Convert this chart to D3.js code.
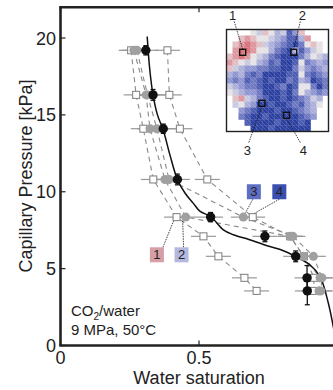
<!DOCTYPE html>
<html>
<head>
<meta charset="utf-8">
<script src="https://cdn.jsdelivr.net/npm/d3@7"></script>
<style>
  body { margin: 0; background: #fff; }
  text { font-family: "Liberation Sans", Arial, sans-serif; fill: #222; }
</style>
</head>
<body>
<svg id="chart" width="333" height="390"></svg>
<script>
// Capillary pressure vs water saturation

// pressure steps (kPa)
const pressures = [19.2, 16.3, 14.1, 10.8, 8.35, 7.1, 5.8, 4.4, 3.55];

// saturation at the four locations
const satLoc1 = [0.255, 0.273, 0.299, 0.335, 0.419, 0.516, 0.570, 0.664, 0.708];
const satLoc2 = [0.265, 0.309, 0.323, 0.377, 0.452, 0.829, 0.877, 0.937, 0.933];
const satLoc3 = [0.276, 0.314, 0.348, 0.392, 0.660, 0.839, 0.913, 0.944, 0.940];
const satLoc4 = [0.386, 0.393, 0.431, 0.530, 0.694, 0.829, 0.879, 0.916, 0.913];

// core average + error
const satMean = [0.308, 0.334, 0.371, 0.422, 0.542, 0.738, 0.849, 0.890, 0.891];
const meanErrP = [0.3, 0.35, 0.3, 0.35, 0.3, 0.35, 0.35, 0.8, 0.9];
const satErr = 0.045;

// fitted curve
const fitSat = [0.313, 0.322, 0.334, 0.350, 0.371, 0.395, 0.422, 0.450, 0.479, 0.504, 0.542, 0.588, 0.624, 0.680, 0.735, 0.800, 0.853, 0.900, 0.937, 0.967, 0.985, 0.997];
const fitP = [20.1, 18.0, 16.3, 15.0, 14.0, 12.4, 10.8, 9.9, 9.26, 8.72, 8.39, 7.52, 7.2, 6.9, 6.55, 6.2, 5.75, 5.25, 4.48, 2.75, 1.2, 0];

const xTicks = [0, 0.5, 1];
const xTickLabels = [0, 0.5];
const yTicks = [0, 5, 10, 15, 20];

// saturation map of the slice, 0 = red (low) .. 9 = dark blue (high), "." = outside
const mapRows = [
  "....342354862....",
  "..212334568851...",
  ".210124567897323.",
  ".100133578958643.",
  "21013457899975345",
  "12343568799837656",
  "24566778899746765",
  "56578799998837876",
  "67687898997856987",
  "45677899879833797",
  "34566799989735676",
  ".214578998987645.",
  ".435699899878653.",
  "..6789998998765..",
  "..7899899999876..",
  "...89999899989...",
  "....9998999999..."
];
// location markers on the map (col,row in cell units)
const locCol = [2.7, 11.2, 5.9, 10.0];
const locRow = [3.8, 3.8, 12.3, 14.3];
const locNames = ["1", "2", "3", "4"];

const svg = d3.select("#chart");

// scales
const x = d3.scaleLinear().domain([0, 1]).range([60.5, 337.5]);
const y = d3.scaleLinear().domain([0, 22]).range([345.5, 7.25]);

const series = [
  { sat: satLoc1, type: "square" },
  { sat: satLoc2, type: "gray" },
  { sat: satLoc3, type: "gray" },
  { sat: satLoc4, type: "square" }
];

// dashed lines for each location
const line = d3.line().x(d => x(d[0])).y(d => y(d[1]));
series.forEach(s => {
  svg.append("path")
    .datum(s.sat.map((v, i) => [v, pressures[i]]))
    .attr("d", line)
    .attr("fill", "none")
    .attr("stroke", "#8a8a8a")
    .attr("stroke-width", 1.1)
    .attr("stroke-dasharray", "5,4");
});

// horizontal error bars
const allSeries = series.map(s => s.sat).concat([satMean]);
allSeries.forEach(sat => {
  svg.append("g").selectAll("line")
    .data(sat)
    .join("line")
    .attr("x1", d => x(d - satErr))
    .attr("x2", d => x(d + satErr))
    .attr("y1", (d, i) => y(pressures[i]))
    .attr("y2", (d, i) => y(pressures[i]))
    .attr("stroke", "#999")
    .attr("stroke-width", 1.2);
});

// fitted curve
svg.append("path")
  .datum(fitSat.map((v, i) => [v, fitP[i]]))
  .attr("d", d3.line().x(d => x(d[0])).y(d => y(d[1])).curve(d3.curveCatmullRom))
  .attr("fill", "none")
  .attr("stroke", "#111")
  .attr("stroke-width", 1.5);

// squares first, then gray circles
series.filter(s => s.type === "square").forEach(s => {
  svg.append("g").selectAll("rect")
    .data(s.sat)
    .join("rect")
    .attr("x", d => x(d) - 3.5)
    .attr("y", (d, i) => y(pressures[i]) - 3.5)
    .attr("width", 7)
    .attr("height", 7)
    .attr("fill", "#fff")
    .attr("stroke", "#888")
    .attr("stroke-width", 1.1);
});
series.filter(s => s.type === "gray").forEach(s => {
  svg.append("g").selectAll("circle")
    .data(s.sat)
    .join("circle")
    .attr("cx", d => x(d))
    .attr("cy", (d, i) => y(pressures[i]))
    .attr("r", 4.5)
    .attr("fill", "#a0a0a0");
});

// mean points with vertical error bars
const meanG = svg.append("g");
meanG.selectAll("line.v")
  .data(satMean)
  .join("line")
  .attr("x1", d => x(d)).attr("x2", d => x(d))
  .attr("y1", (d, i) => y(pressures[i] - meanErrP[i]))
  .attr("y2", (d, i) => y(pressures[i] + meanErrP[i]))
  .attr("stroke", "#111").attr("stroke-width", 1.3);
[-1, 1].forEach(sgn => {
  meanG.append("g").selectAll("line")
    .data(satMean)
    .join("line")
    .attr("x1", d => x(d) - 2.5).attr("x2", d => x(d) + 2.5)
    .attr("y1", (d, i) => y(pressures[i] + sgn * meanErrP[i]))
    .attr("y2", (d, i) => y(pressures[i] + sgn * meanErrP[i]))
    .attr("stroke", "#111").attr("stroke-width", 1.3);
});
meanG.selectAll("circle")
  .data(satMean)
  .join("circle")
  .attr("cx", d => x(d))
  .attr("cy", (d, i) => y(pressures[i]))
  .attr("r", 4.7)
  .attr("fill", "#111");

// location tags in the plot
const tagCol = ["#d69ea5", "#b4b8de", "#5e6ec3", "#3b4eb1"];
const tagSat = [0.348, 0.437, 0.698, 0.790];
const tagP = [5.9, 5.9, 10.0, 10.0];
const tagTarget = [[satLoc1[4], pressures[4]], [satLoc2[4], pressures[4]], [satLoc3[4], pressures[4]], [satLoc4[4], pressures[4]]];
tagSat.forEach((s, i) => {
  const cx = x(s), cy = y(tagP[i]);
  const up = tagP[i] < pressures[4];
  svg.append("line")
    .attr("x1", up ? cx + (i === 0 ? 6 : 2) : cx + (i === 2 ? -1 : 0))
    .attr("y1", up ? cy - 7.5 : cy + 7.5)
    .attr("x2", x(tagTarget[i][0]) + (up ? -3 : 2))
    .attr("y2", y(tagTarget[i][1]) + (up ? 4 : -4))
    .attr("stroke", "#111").attr("stroke-width", 0.8)
    .attr("stroke-dasharray", "1.5,1");
  svg.append("rect")
    .attr("x", cx - 7).attr("y", cy - 7.5)
    .attr("width", 14).attr("height", 15)
    .attr("fill", tagCol[i]);
  svg.append("text")
    .attr("x", cx).attr("y", cy + 4.5)
    .attr("text-anchor", "middle")
    .attr("font-size", 13)
    .text(locNames[i]);
});

// inset map
const mx = d3.scaleLinear().domain([0, 17]).range([226.5, 328.5]);
const my = d3.scaleLinear().domain([0, 17]).range([29.5, 131.5]);
const mapColor = d3.scaleLinear()
  .domain([0, 3, 6, 9])
  .range(["#d9707a", "#e6e3e6", "#8f96d2", "#2c40a0"]);

const defs = svg.append("defs");
const pat = defs.append("pattern")
  .attr("id", "hatch")
  .attr("patternUnits", "userSpaceOnUse")
  .attr("width", 4).attr("height", 4);
pat.append("path")
  .attr("d", "M-1,-1 L5,5")
  .attr("stroke", "#fff").attr("stroke-opacity", 0.25).attr("stroke-width", 0.6);

svg.append("rect")
  .attr("x", mx(0)).attr("y", my(0))
  .attr("width", mx(17) - mx(0)).attr("height", my(17) - my(0))
  .attr("fill", "#fff");

const cells = [];
mapRows.forEach((row, r) => {
  row.split("").forEach((ch, c) => {
    if (ch !== ".") cells.push({ r: r, c: c, v: +ch });
  });
});
const mapG = svg.append("g");
mapG.selectAll("rect.cell")
  .data(cells)
  .join("rect")
  .attr("x", d => mx(d.c)).attr("y", d => my(d.r))
  .attr("width", mx(1) - mx(0) + 0.3).attr("height", my(1) - my(0) + 0.3)
  .attr("fill", d => mapColor(d.v));
mapG.selectAll("rect.hatch")
  .data(cells)
  .join("rect")
  .attr("x", d => mx(d.c)).attr("y", d => my(d.r))
  .attr("width", mx(1) - mx(0)).attr("height", my(1) - my(0))
  .attr("fill", "url(#hatch)");

svg.append("rect")
  .attr("x", mx(0)).attr("y", my(0))
  .attr("width", mx(17) - mx(0)).attr("height", my(17) - my(0))
  .attr("fill", "none").attr("stroke", "#222").attr("stroke-width", 1.4);

// location markers and labels on the map
const labelX = [232.7, 302.3, 247.3, 303.3];
const labelY = [19.5, 19.5, 154.5, 154.5];
locCol.forEach((c, i) => {
  const px = mx(c), py = my(locRow[i]);
  const top = i < 2;
  svg.append("line")
    .attr("x1", labelX[i] + (i === 0 ? 1.5 : i === 1 ? -2 : i === 2 ? 1.5 : -3))
    .attr("y1", top ? labelY[i] + 2 : labelY[i] - 12)
    .attr("x2", px).attr("y2", top ? py - 3 : py + 3)
    .attr("stroke", "#111").attr("stroke-width", 0.8)
    .attr("stroke-dasharray", "1.5,1");
  svg.append("rect")
    .attr("x", px - 3).attr("y", py - 3)
    .attr("width", 6).attr("height", 6)
    .attr("fill", "none").attr("stroke", "#111").attr("stroke-width", 1.4);
  svg.append("text")
    .attr("x", labelX[i]).attr("y", labelY[i])
    .attr("text-anchor", "middle")
    .attr("font-size", 13)
    .text(locNames[i]);
});

// axes frame
svg.append("line")
  .attr("x1", x(0)).attr("x2", x(0)).attr("y1", y(22)).attr("y2", y(0))
  .attr("stroke", "#222").attr("stroke-width", 2.6);
svg.append("line")
  .attr("x1", x(0) - 1.3).attr("x2", x(1) + 2).attr("y1", y(0)).attr("y2", y(0))
  .attr("stroke", "#222").attr("stroke-width", 2.6);
svg.append("line")
  .attr("x1", x(0) - 1.3).attr("x2", x(1) + 2).attr("y1", y(22)).attr("y2", y(22))
  .attr("stroke", "#222").attr("stroke-width", 2.6);

// ticks (inward)
svg.append("g").selectAll("line")
  .data(yTicks)
  .join("line")
  .attr("x1", x(0)).attr("x2", x(0) + 5)
  .attr("y1", d => y(d)).attr("y2", d => y(d))
  .attr("stroke", "#222").attr("stroke-width", 1.2);
[0, 22].forEach(edge => {
  svg.append("g").selectAll("line")
    .data(xTicks)
    .join("line")
    .attr("x1", d => x(d)).attr("x2", d => x(d))
    .attr("y1", y(edge)).attr("y2", y(edge) + (edge === 0 ? -5 : 5))
    .attr("stroke", "#222").attr("stroke-width", 1.2);
});

svg.append("g").selectAll("text")
  .data(yTicks)
  .join("text")
  .attr("x", 56)
  .attr("y", d => y(d) + 6.5)
  .attr("text-anchor", "end")
  .attr("font-size", 18)
  .text(d => d);
svg.append("g").selectAll("text")
  .data(xTickLabels)
  .join("text")
  .attr("x", d => x(d))
  .attr("y", 364)
  .attr("text-anchor", "middle")
  .attr("font-size", 18)
  .text(d => d);

// axis titles
svg.append("text")
  .attr("transform", "translate(32,176) rotate(-90)")
  .attr("text-anchor", "middle")
  .attr("font-size", 18)
  .text("Capillary Pressure [kPa]");
svg.append("text")
  .attr("x", 199).attr("y", 384)
  .attr("text-anchor", "middle")
  .attr("font-size", 18)
  .text("Water saturation");

// annotation
const note = svg.append("text").attr("x", 71).attr("y", 316).attr("font-size", 15);
note.append("tspan").text("CO");
note.append("tspan").attr("font-size", 10).attr("dy", 4).text("2");
note.append("tspan").attr("dy", -4).text("/water");
svg.append("text").attr("x", 71).attr("y", 335).attr("font-size", 15).text("9 MPa, 50°C");
</script>
</body>
</html>
